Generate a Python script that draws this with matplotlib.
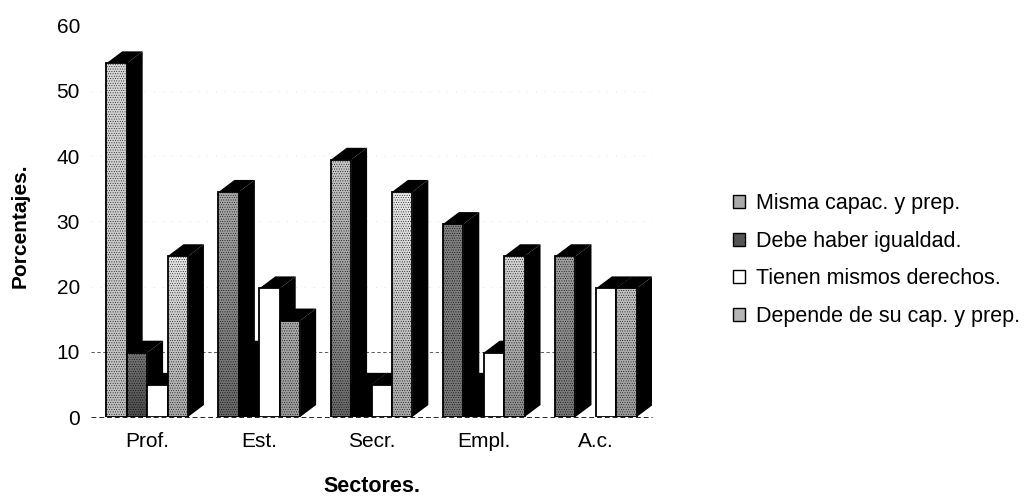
import matplotlib
matplotlib.use('Agg')
import matplotlib.pyplot as plt
from matplotlib.patches import Patch
import numpy as np

plt.rcParams['font.family'] = ['Liberation Sans', 'DejaVu Sans']
plt.rcParams['hatch.linewidth'] = 0.3

sectores = ['Prof.', 'Est.', 'Secr.', 'Empl.', 'A.c.']
misma = [55, 35, 40, 30, 25]
debe = [10, 10, 5, 5, 0]
tienen = [5, 20, 5, 10, 20]
depende = [25, 15, 35, 25, 20]
series_names = ['Misma capac. y prep.', 'Debe haber igualdad.',
                'Tienen mismos derechos.', 'Depende de su cap. y prep.']
yticks = [0, 10, 20, 30, 40, 50, 60]

# grey of each bar, top and bottom (scan looks darker low down)
top_misma = [0.84, 0.66, 0.78, 0.50, 0.62]
bot_misma = [0.74, 0.40, 0.40, 0.46, 0.46]
top_debe = [0.46, 0.0, 0.0, 0.0, 0.0]
bot_debe = [0.30, 0.0, 0.0, 0.0, 0.0]
top_dep = [0.90, 0.66, 0.90, 0.84, 0.76]
bot_dep = [0.66, 0.60, 0.66, 0.54, 0.60]

W, H = 1026, 498
fig = plt.figure(figsize=(W / 100, H / 100), dpi=100)
ax = fig.add_axes([91 / W, 1 - 417 / H, 561 / W, 396 / H])

x = np.arange(len(sectores))
width = 0.182
dx = 16 / 112.2
dy = 12 / 6.43

# gridlines and labels sit on a slightly taller scale than the bar fronts
tick_scale = 1.014
tick_pos = [t * tick_scale for t in yticks]

# the scan only kept the lowest gridline, and just barely the others
ax.axhline(tick_pos[1], color='#444444', lw=0.6, ls=(0, (4, 3)), zorder=1)
for t in tick_pos[2:6]:
    ax.axhline(t, color='#cccccc', lw=0.4, ls=(0, (2, 14)), zorder=1)
ax.axhline(0, color='#222222', lw=0.7, ls=(0, (5, 3)), zorder=1, clip_on=False)

z = 2
grad = np.linspace(0, 1, 64).reshape(-1, 1)


def draw_bar(xc, v, top, bottom):
    global z
    if v == 0:
        return
    l, r = xc - width / 2, xc + width / 2
    ax.fill([r, r + dx, r + dx, r], [0, dy, v + dy, v], color='black', lw=0, zorder=z)
    ax.fill([l, l + dx, r + dx, r], [v, v + dy, v + dy, v], color='black', lw=0, zorder=z)
    stipple = '.......' if 0 < top < 1 else None
    bar = ax.bar(xc, v, width, color='none', edgecolor='black', lw=1.3, hatch=stipple,
                 zorder=z + 2)[0]
    img = ax.imshow(top + (bottom - top) * grad, extent=(l, r, 0, v), aspect='auto',
                    cmap='gray', vmin=0, vmax=1, zorder=z + 1)
    img.set_clip_path(bar)
    z += 3


for i in x:
    draw_bar(i - 1.5 * width, misma[i], top_misma[i], bot_misma[i])
    draw_bar(i - 0.5 * width, debe[i], top_debe[i], bot_debe[i])
    draw_bar(i + 0.5 * width, tienen[i], 1.0, 1.0)
    draw_bar(i + 1.5 * width, depende[i], top_dep[i], bot_dep[i])

ax.set_xlim(-0.5, 4.5)
ax.set_ylim(0, 396 / 6.43)
ax.set_xticks(x, sectores, fontsize=15)
ax.set_yticks(tick_pos, yticks, fontsize=15)
ax.tick_params(axis='both', length=0)
ax.tick_params(axis='x', pad=11)
ax.tick_params(axis='y', pad=8)
for s in ax.spines.values():
    s.set_visible(False)

fig.text(20 / W, 1 - 226 / H, 'Porcentajes.', rotation=90, fontsize=15, weight='bold',
         ha='center', va='center')
fig.text(372 / W, 1 - 486 / H, 'Sectores.', fontsize=15.5, weight='bold',
         ha='center', va='center')

handles = [Patch(facecolor='#aaaaaa', edgecolor='black'),
           Patch(facecolor='#555555', edgecolor='black'),
           Patch(facecolor='white', edgecolor='black'),
           Patch(facecolor='#b5b5b5', edgecolor='black')]
fig.legend(handles, series_names, loc='center left', bbox_to_anchor=(733 / W, 1 - 260 / H),
           frameon=False, fontsize=15.5, handlelength=0.55, handleheight=0.55,
           handletextpad=0.54, labelspacing=0.77, borderpad=0, borderaxespad=0)

fig.savefig('out.png', dpi=100)
